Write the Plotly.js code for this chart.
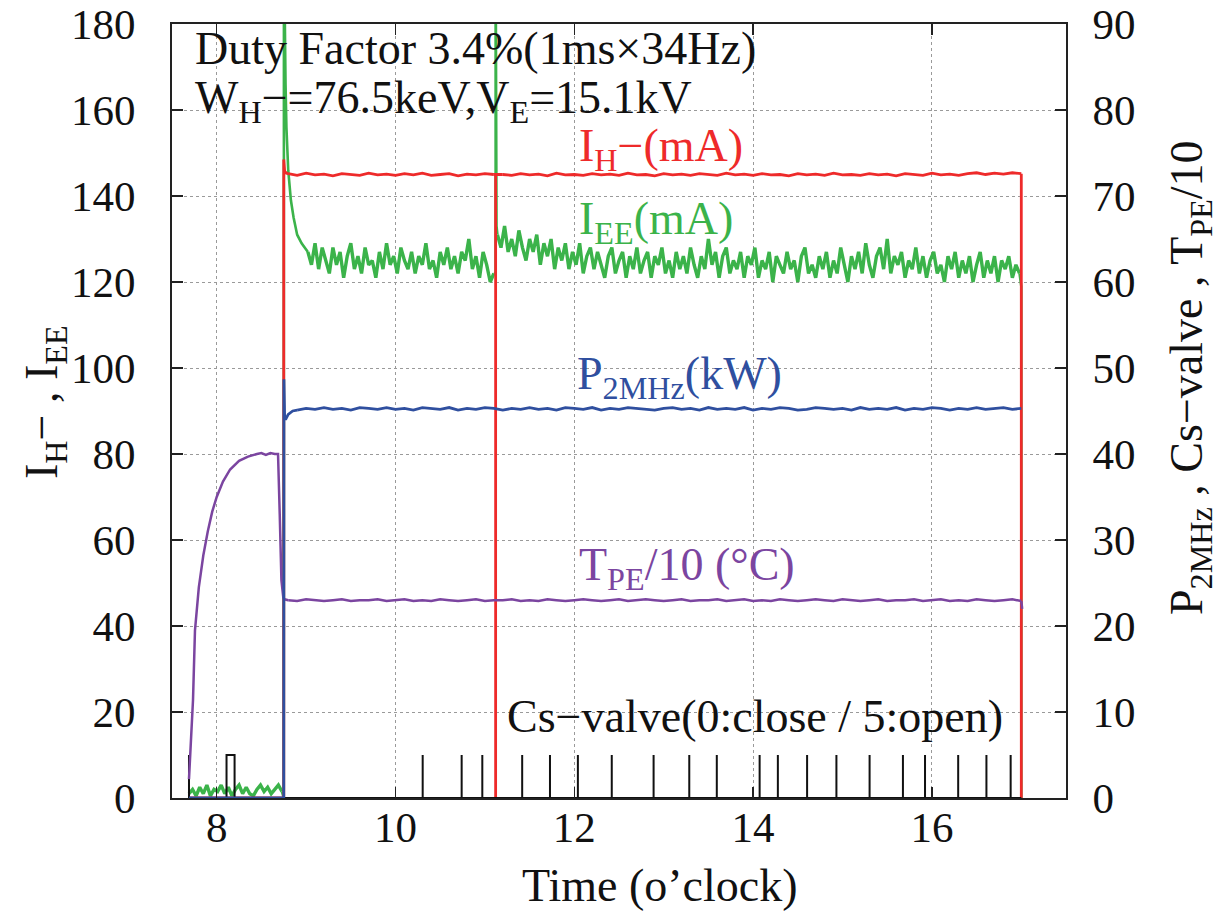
<!DOCTYPE html>
<html>
<head>
<meta charset="utf-8">
<script src="https://cdn.plot.ly/plotly-3.0.1.min.js"></script>
<style>html,body{margin:0;padding:0;background:#fff;}#chart{width:1221px;height:919px;}</style>
</head>
<body>
<div id="chart"></div>
<script>
// ---------- data (time in o'clock hours) ----------
const xTicks = [8, 10, 12, 14, 16];

// I_EE (mA) – left axis
const ieePreX0 = 7.69, ieePreDx = 0.04;
const ieePre = [1,2,0.5,2.5,1,3,0.5,2,1.5,3, 1,2.5,0.5,2,3,1,2.5,1,0.5,2, 3,1.5,2.5,1,2,3,1.5];
const ieeSpike1X = [8.73, 8.745, 8.75, 8.752, 8.76, 8.77, 8.78, 8.80, 8.83, 8.86, 8.90, 8.95, 9.02];
const ieeSpike1Y = [1.5, 0, 0, 200, 180, 166, 156, 146, 139, 135, 131, 129, 127];
const ieeSeg1X0 = 9.02, ieeSeg1Dx = 0.04;
const ieeSeg1 = [127,124,129,123,128,125,122,128,124,127, 121,126,129,123,126,122,128,124,125,121,
                 127,123,129,124,126,122,128,125,123,127, 122,126,124,129,123,125,121,127,124,128,
                 123,126,122,127,125,130,123,126,121,127, 124,120,122];
const ieeSpike2X = [11.10, 11.12, 11.12, 11.13, 11.14];
const ieeSpike2Y = [122, 122, 200, 133, 131];
const ieeSeg2X0 = 11.14, ieeSeg2Dx = 0.04;
const ieeSeg2 = [131,128,133,127,130,126,132,128,125,130, 127,131,124,129,126,130,123,128,125,129,
                 123,127,124,129,122,126,128,123,127,124, 121,126,128,122,125,127,121,126,123,128,
                 122,125,127,121,126,124,128,122,125,121, 127,123,126,122,128,124,121,126,123,130,
                 124,127,121,126,128,122,125,123,127,121, 126,124,128,121,125,123,127,120,126,124,
                 122,127,123,125,120,126,128,122,124,121, 126,123,127,121,125,122,128,124,120,126,
                 123,127,122,129,124,121,126,128,123,130, 122,126,124,127,121,125,123,128,122,126,
                 121,125,127,122,124,120,126,123,127,121, 125,122,126,120,124,127,121,125,122,126,
                 120,125,123,126,121,124,122];
const ieeEndX = [16.98, 17.0, 17.0];
const ieeEndY = [122, 119, 0];

// I_H- (mA) – left axis
const ihPreX = [7.69, 8.75, 8.75, 8.76, 8.78, 8.80];
const ihPreY = [0, 0, 148.5, 145.8, 145.3, 145.2];
const ihSeg1X0 = 8.8, ihSeg1Dx = 0.1;
const ihSeg1 = [145.2,144.8,145.3,144.9,145.1,144.7,145.2,145.0,144.8,145.3,
                144.9,145.1,144.8,145.2,144.9,145.3,144.8,145.0,145.2,144.7,
                145.1,144.9,145.2,145.0];
const ihDropX = [11.1, 11.12, 11.12, 11.12, 11.2];
const ihDropY = [145.0, 145.0, 0, 145.0, 145.0];
const ihSeg2X0 = 11.2, ihSeg2Dx = 0.1;
const ihSeg2 = [145.0,144.8,145.2,144.9,145.1,144.7,145.3,144.9,145.0,144.8,
                145.2,144.9,145.1,144.8,145.3,144.9,145.0,144.7,145.2,144.9,
                145.1,144.8,145.2,145.0,144.8,145.3,144.9,145.1,144.8,145.2,
                144.9,145.0,144.7,145.2,144.9,145.1,144.8,145.3,144.9,145.0,
                144.8,145.2,144.9,145.1,144.7,145.2,145.0,144.8,145.3,144.9,
                145.1,144.8,145.2,145.4,145.0,145.3,145.1,145.4,145.2];
const ihEndX = [17.0, 17.0];
const ihEndY = [145.2, 0];

// P_2MHz (kW) – right axis
const pPreX = [7.69, 8.75, 8.752, 8.76, 8.77, 8.80, 8.85, 8.90];
const pPreY = [0, 0, 48.7, 44.2, 44.0, 44.6, 45.0, 45.1];
const pSegX0 = 8.9, pSegDx = 0.1;
const pSeg = [45.1,45.3,45.2,45.4,45.2,45.3,45.1,45.4,45.3,45.2,
              45.4,45.2,45.3,45.1,45.4,45.3,45.2,45.4,45.1,45.3,
              45.2,45.4,45.3,45.1,45.3,45.2,45.4,45.2,45.3,45.1,
              45.4,45.3,45.2,45.4,45.1,45.3,45.2,45.4,45.3,45.2,
              45.1,45.3,45.4,45.2,45.3,45.1,45.4,45.2,45.3,45.2,
              45.4,45.1,45.3,45.2,45.4,45.3,45.1,45.2,45.4,45.3,
              45.2,45.3,45.1,45.4,45.2,45.3,45.2,45.4,45.1,45.3,
              45.2,45.4,45.3,45.1,45.3,45.2,45.4,45.2,45.3,45.4,
              45.2,45.3];

// T_PE/10 (°C) – right axis
const tRiseX = [7.69, 7.735, 7.757, 7.80, 7.85, 7.90, 7.95, 8.0, 8.07, 8.15, 8.25, 8.35, 8.45,
                8.50, 8.55, 8.60, 8.65, 8.686, 8.705, 8.724, 8.745, 8.76, 8.80];
const tRiseY = [2.2, 11.4, 19.5, 24.5, 28.2, 31.0, 33.3, 35.0, 36.8, 38.2, 39.2, 39.7, 40.0,
                40.1, 39.9, 40.1, 40.0, 40.0, 33.0, 25.3, 23.3, 23.1, 23.0];
const tSegX0 = 8.8, tSegDx = 0.1;
const tSeg = [23.0,22.9,23.1,23.0,22.9,23.0,23.1,22.9,23.0,23.0,
              23.1,22.9,23.0,23.1,22.9,23.0,22.9,23.1,23.0,22.9,
              23.0,23.1,22.9,23.0,23.0,23.1,22.9,23.0,22.9,23.1,
              23.0,22.9,23.0,23.1,23.0,22.9,23.0,23.1,22.9,23.0,
              23.1,23.0,22.9,23.0,23.1,22.9,23.0,23.0,23.1,22.9,
              23.0,23.1,22.9,23.0,22.9,23.1,23.0,22.9,23.0,23.1,
              23.0,22.9,23.1,23.0,22.9,23.0,23.1,22.9,23.0,23.0,
              23.1,22.9,23.0,23.1,22.9,23.0,22.9,23.1,23.0,22.9,
              23.0,23.1,22.9];
const tEndX = [17.0, 17.01];
const tEndY = [22.9, 22.0];

// Cs-valve (0: close / 5: open) – right axis
const csOpen  = [7.69, 8.11, 10.304, 10.740, 10.971, 11.417, 11.728, 12.040, 12.419, 12.887, 13.286,
                 13.594, 14.073, 14.277, 14.604, 14.932, 15.303, 15.676, 15.923, 16.294, 16.610, 16.881];
const csClose = [7.69, 8.20, 10.304, 10.740, 10.971, 11.417, 11.728, 12.040, 12.419, 12.887, 13.286,
                 13.594, 14.073, 14.277, 14.604, 14.932, 15.303, 15.676, 15.923, 16.294, 16.610, 16.881];
const csOpenLevel = 5, csCloseLevel = 0, csEnd = 17.0;

// ---------- build traces ----------
const C_RED = '#ee2a2a', C_GREEN = '#3bb34a', C_BLUE = '#2f4f9f', C_PURPLE = '#7b45a0';
const csX = [], csY = [];
for (let i = 0; i < csOpen.length; i++) {
  csX.push(csOpen[i], csOpen[i], csClose[i], csClose[i]);
  csY.push(csCloseLevel, csOpenLevel, csOpenLevel, csCloseLevel);
}
csX.push(csEnd); csY.push(csCloseLevel);

function line(x, y, color, yaxis, w) {
  return {type: 'scatter', mode: 'lines', x: x, y: y, yaxis: yaxis, line: {color: color, width: w || 2}, showlegend: false, hoverinfo: 'skip'};
}
function seq(x0, dx, y, color, yaxis, w) {
  return {type: 'scatter', mode: 'lines', x0: x0, dx: dx, y: y, yaxis: yaxis, line: {color: color, width: w || 2}, showlegend: false, hoverinfo: 'skip'};
}

const GW = 3.4, RW = 2.8, BW = 2.8, PW = 2.5;
const traces = [
  line(csX, csY, '#111', 'y2', 2),
  line(tRiseX, tRiseY, C_PURPLE, 'y2', PW),
  seq(tSegX0, tSegDx, tSeg, C_PURPLE, 'y2', PW),
  line(tEndX, tEndY, C_PURPLE, 'y2', PW),
  line(pPreX, pPreY, C_BLUE, 'y2', BW),
  seq(pSegX0, pSegDx, pSeg, C_BLUE, 'y2', BW),
  seq(ieePreX0, ieePreDx, ieePre, C_GREEN, 'y', GW),
  line(ieeSpike1X, ieeSpike1Y, C_GREEN, 'y', 2.6),
  seq(ieeSeg1X0, ieeSeg1Dx, ieeSeg1, C_GREEN, 'y', GW),
  line(ieeSpike2X, ieeSpike2Y, C_GREEN, 'y', 2.6),
  seq(ieeSeg2X0, ieeSeg2Dx, ieeSeg2, C_GREEN, 'y', GW),
  line(ieeEndX, ieeEndY, C_GREEN, 'y', 2.6),
  line(ihPreX, ihPreY, C_RED, 'y', RW),
  seq(ihSeg1X0, ihSeg1Dx, ihSeg1, C_RED, 'y', RW),
  line(ihDropX, ihDropY, C_RED, 'y', RW),
  seq(ihSeg2X0, ihSeg2Dx, ihSeg2, C_RED, 'y', RW),
  line(ihEndX, ihEndY, C_RED, 'y', RW)
];

const FONT = 'Liberation Serif, Times New Roman, serif';
const TICKF = {family: FONT, size: 43, color: '#111'};
const AF = 46;
function ann(text, x, y, color, extra) {
  return Object.assign({text: text, x: x, y: y, xref: 'x', yref: 'y', xanchor: 'left', yanchor: 'middle',
    showarrow: false, font: {family: FONT, size: AF, color: color}}, extra || {});
}

const layout = {
  width: 1221, height: 919,
  margin: {l: 172, r: 155, t: 24, b: 121, pad: 0},
  paper_bgcolor: '#fff', plot_bgcolor: '#fff',
  font: {family: FONT, color: '#111'},
  xaxis: {range: [7.5, 17.5], tickvals: xTicks, ticktext: xTicks.map(String), ticks: 'inside', ticklen: 11, tickwidth: 1.5,
    tickcolor: '#222', showline: true, linecolor: '#222', linewidth: 2, mirror: 'ticks',
    showgrid: true, gridcolor: '#9a9a9a', griddash: 'dot', gridwidth: 1, zeroline: false,
    tickfont: TICKF, ticklabelstandoff: -10},
  yaxis: {range: [0, 180], dtick: 20, tick0: 0, ticks: 'inside', ticklen: 11, tickwidth: 1.5, tickcolor: '#222',
    showline: true, linecolor: '#222', linewidth: 2, mirror: true,
    showgrid: true, gridcolor: '#9a9a9a', griddash: 'dot', gridwidth: 1, zeroline: false,
    tickfont: TICKF, ticklabelstandoff: 26},
  yaxis2: {range: [0, 90], dtick: 10, tick0: 0, overlaying: 'y', side: 'right', ticks: 'inside', ticklen: 11, tickwidth: 1.5,
    tickcolor: '#222', showline: true, linecolor: '#222', linewidth: 2, showgrid: false, zeroline: false,
    tickfont: TICKF, ticklabelstandoff: 16},
  annotations: [
    ann('Duty Factor 3.4%(1ms×34Hz)', 7.735, 174.4, '#111'),
    ann('W<sub>H</sub>−=76.5keV,V<sub>E</sub>=15.1kV', 7.735, 162, '#111'),
    ann('I<sub>H</sub>−(mA)', 12.03, 151, C_RED),
    ann('I<sub>EE</sub>(mA)', 12.03, 134, C_GREEN),
    ann('P<sub>2MHz</sub>(kW)', 12.01, 98, C_BLUE),
    ann('T<sub>PE</sub>/10 (°C)', 12.03, 53.5, C_PURPLE),
    ann('Cs−valve(0:close / 5:open)', 11.225, 19, '#111'),
    {text: 'Time (o’clock)', xref: 'paper', yref: 'paper', x: (660 - 172) / 894, y: -(885 - 798) / 774,
      xanchor: 'center', yanchor: 'middle', showarrow: false, font: {family: FONT, size: AF, color: '#111'}},
    {text: 'I<sub>H</sub>− , I<sub>EE</sub>', xref: 'paper', yref: 'paper', x: -(172 - 45) / 894, y: (798 - 402) / 774,
      xanchor: 'center', yanchor: 'middle', textangle: -90, showarrow: false, font: {family: FONT, size: AF, color: '#111'}},
    {text: 'P<sub>2MHz</sub> , Cs−valve , T<sub>PE</sub>/10', xref: 'paper', yref: 'paper', x: (1190 - 172) / 894, y: (798 - 378) / 774,
      xanchor: 'center', yanchor: 'middle', textangle: -90, showarrow: false, font: {family: FONT, size: AF, color: '#111'}}
  ]
};

Plotly.newPlot('chart', traces, layout, {staticPlot: true, displayModeBar: false});
</script>
</body>
</html>
